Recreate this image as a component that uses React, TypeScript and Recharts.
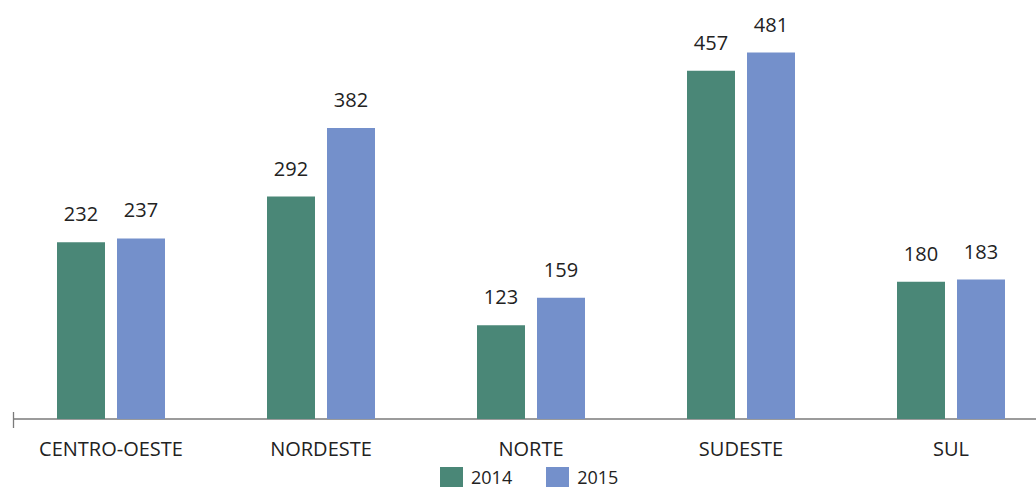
import React from 'react';
import { BarChart, Bar, XAxis, YAxis, LabelList, Legend, Customized } from 'recharts';

const categories = ['CENTRO-OESTE', 'NORDESTE', 'NORTE', 'SUDESTE', 'SUL'];
const values2014 = [232, 292, 123, 457, 180];
const values2015 = [237, 382, 159, 481, 183];
const seriesNames = ['2014', '2015'];
const colors = ['#4A8777', '#7490CB'];

const data = categories.map((c, i) => ({ name: c, a: values2014[i], b: values2015[i] }));

const FONT = '"Open Sans", "Noto Sans", sans-serif';

const AxisDecor = () => (
  <g>
    <line x1={13} x2={1064} y1={419} y2={419} stroke="#7a7a7a" strokeWidth={1.3} />
    <line x1={13.5} x2={13.5} y1={412} y2={428} stroke="#7a7a7a" strokeWidth={1.3} />
  </g>
);

const LegendContent = () => (
  <div style={{ display: 'flex', fontFamily: FONT, fontSize: 18, lineHeight: '20px', color: '#222', position: 'absolute', left: 434, top: 5 }}>
    {seriesNames.map((s, i) => (
      <div key={s} style={{ display: 'flex', alignItems: 'center', marginRight: i === 0 ? 34 : 0 }}>
        <div style={{ width: 23, height: 20, background: colors[i], marginRight: 8 }} />
        <span>{s}</span>
      </div>
    ))}
  </div>
);

export default function App() {
  return (
    <div style={{ position: 'absolute', left: 0, top: 0, width: 1036, height: 488, overflow: 'hidden', background: '#fff' }}>
      <BarChart
        width={1064}
        height={488}
        data={data}
        margin={{ top: 0, left: 6, right: 8, bottom: 4 }}
        barCategoryGap="24.3%"
        barGap={12}
      >
        <YAxis hide domain={[0, 550]} />
        <XAxis
          dataKey="name"
          axisLine={false}
          tickLine={false}
          tickSize={0}
          tickMargin={23}
          height={43}
          interval={0}
          tick={{ fill: '#222', fontSize: 20, fontFamily: FONT }}
        />
        <Legend verticalAlign="bottom" height={22} content={<LegendContent />} />
        <Customized component={AxisDecor} />
        <Bar dataKey="a" name="2014" fill={colors[0]} barSize={48} isAnimationActive={false}>
          <LabelList dataKey="a" position="top" offset={21} fill="#222" fontSize={20} fontFamily={FONT} />
        </Bar>
        <Bar dataKey="b" name="2015" fill={colors[1]} barSize={48} isAnimationActive={false}>
          <LabelList dataKey="b" position="top" offset={21} fill="#222" fontSize={20} fontFamily={FONT} />
        </Bar>
      </BarChart>
    </div>
  );
}
